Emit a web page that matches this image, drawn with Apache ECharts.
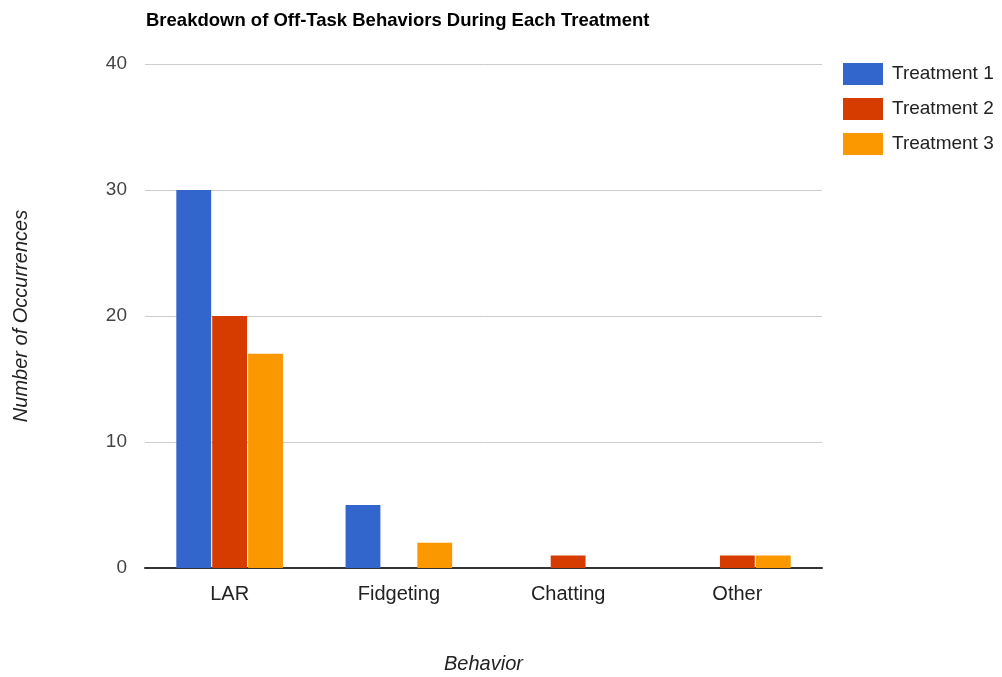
<!DOCTYPE html>
<html>
<head>
<meta charset="utf-8">
<script src="https://cdn.jsdelivr.net/npm/echarts@6/dist/echarts.min.js"></script>
<style>
  html, body { margin: 0; padding: 0; background: #fff; }
  #chart { width: 1002px; height: 677px; }
</style>
</head>
<body>
<div id="chart"></div>
<script>
// Off-task behavior counts per treatment
const categories = ['LAR', 'Fidgeting', 'Chatting', 'Other'];
const treatment1 = [30, 5, 0, 0];
const treatment2 = [20, 0, 1, 1];
const treatment3 = [17, 2, 0, 1];
const seriesNames = ['Treatment 1', 'Treatment 2', 'Treatment 3'];
const yTicks = [0, 10, 20, 30, 40];

const colors = ['#3366cc', '#d63c00', '#fb9800'];
const font = '"Liberation Sans", Arial, sans-serif';

const chart = echarts.init(document.getElementById('chart'), null, { renderer: 'canvas' });

const barSeries = [treatment1, treatment2, treatment3].map((data, i) => ({
  name: seriesNames[i],
  type: 'bar',
  data: data,
  barGap: '3%',
  barCategoryGap: '37%',
  itemStyle: { color: colors[i] },
  emphasis: { disabled: true }
}));

chart.setOption({
  animation: false,
  color: colors,
  title: {
    text: 'Breakdown of Off-Task Behaviors During Each Treatment',
    left: 141,
    top: 6,
    textStyle: { fontFamily: font, fontSize: 18.5, fontWeight: 'bold', color: '#000' }
  },
  legend: {
    orient: 'vertical',
    left: 838,
    top: 58,
    itemWidth: 40,
    itemHeight: 22,
    itemGap: 13,
    icon: 'rect',
    data: seriesNames,
    textStyle: { fontFamily: font, fontSize: 19, color: '#222', padding: [0, 0, 0, 4] }
  },
  grid: { left: 145, right: 180, top: 64, bottom: 109, containLabel: false, outerBoundsMode: 'none' },
  xAxis: {
    type: 'category',
    data: categories,
    name: 'Behavior',
    nameLocation: 'middle',
    nameGap: 86,
    nameTextStyle: { fontFamily: font, fontSize: 20, fontStyle: 'italic', color: '#222' },
    axisLine: { lineStyle: { color: '#333', width: 2 } },
    axisTick: { show: false },
    axisLabel: { fontFamily: font, fontSize: 20, color: '#222', margin: 16 }
  },
  yAxis: {
    type: 'value',
    min: yTicks[0],
    max: yTicks[yTicks.length - 1],
    interval: 10,
    name: 'Number of Occurrences',
    nameLocation: 'middle',
    nameGap: 114,
    nameTextStyle: { fontFamily: font, fontSize: 20, fontStyle: 'italic', color: '#222' },
    axisLine: { show: false },
    axisTick: { show: false },
    axisLabel: { fontFamily: font, fontSize: 19, color: '#444', margin: 18, padding: [5, 0, 0, 0] },
    splitLine: { lineStyle: { color: '#ccc', width: 1 } }
  },
  series: barSeries
});
</script>
</body>
</html>
